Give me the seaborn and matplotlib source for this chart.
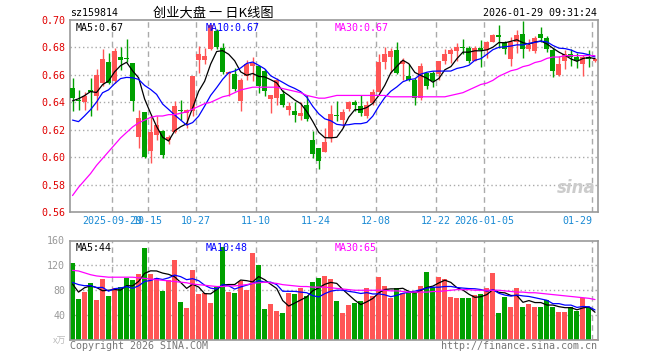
import numpy as np
import pandas as pd
import seaborn as sns
import matplotlib.pyplot as plt

# ------------------------------ data from the chart ------------------------------
holidays = pd.to_datetime(["2025-10-01", "2025-10-02", "2025-10-03", "2025-10-06",
                           "2025-10-07", "2025-10-08", "2026-01-01", "2026-01-02"])
trade_days = pd.bdate_range("2025-09-18", "2026-01-29").difference(holidays)

tick_dates = ["2025-09-29", "2025-10-15", "2025-10-27", "2025-11-10", "2025-11-24",
              "2025-12-08", "2025-12-22", "2026-01-05", "2026-01-29"]
tick_labels = ["2025-09-29", "10-15", "10-27", "11-10", "11-24",
               "12-08", "12-22", "2026-01-05", "01-29"]

opens = [.6505, .6412, .6400, .6482, .6444, .6542, .6693, .6554, .6730, .6722,
         .6689, .6149, .6326, .6044, .6162, .6190, .6125, .6186, .6342, .6321,
         .6340, .6706, .6706, .6792, .6922, .6794, .6608, .6608, .6407, .6591,
         .6664, .6664, .6628, .6427, .6432, .6463, .6346, .6339, .6299, .6383,
         .6125, .6064, .6040, .6142, .6306, .6272, .6353, .6402, .6370, .6297,
         .6395, .6476, .6696, .6731, .6779, .6677, .6591, .6566, .6432, .6615,
         .6615, .6603, .6701, .6755, .6775, .6799, .6799, .6701, .6799, .6779,
         .6841, .6890, .6836, .6713, .6836, .6897, .6787, .6775, .6897, .6868,
         .6779, .6598, .6701, .6750, .6733, .6682, .6731, .6701]
highs = [.6579, .6493, .6476, .6579, .6640, .6787, .6762, .6799, .6800, .6865,
         .6689, .6346, .6326, .6304, .6300, .6199, .6162, .6407, .6418, .6350,
         .6591, .6811, .6799, .6963, .6934, .6829, .6628, .6652, .6579, .6710,
         .6731, .6664, .6640, .6456, .6579, .6493, .6402, .6402, .6402, .6456,
         .6187, .6064, .6211, .6383, .6412, .6353, .6412, .6419, .6456, .6412,
         .6500, .6755, .6806, .6799, .6836, .6726, .6677, .6579, .6689, .6615,
         .6628, .6701, .6787, .6799, .6829, .6860, .6811, .6811, .6853, .6848,
         .6897, .6963, .6848, .6873, .6926, .6995, .6860, .6885, .6946, .6885,
         .6799, .6738, .6779, .6787, .6762, .6745, .6779, .6721]
lows = [.6340, .6346, .6346, .6300, .6346, .6517, .6530, .6542, .6633, .6693,
        .6340, .6068, .5994, .5954, .6125, .5993, .6093, .6174, .6272, .6215,
        .6300, .6615, .6677, .6780, .6787, .6603, .6444, .6481, .6339, .6566,
        .6554, .6468, .6444, .6321, .6378, .6363, .6309, .6255, .6272, .6260,
        .5991, .5917, .6035, .6113, .6260, .6223, .6334, .6334, .6297, .6285,
        .6383, .6476, .6640, .6615, .6603, .6566, .6554, .6383, .6419, .6500,
        .6510, .6559, .6677, .6689, .6701, .6750, .6689, .6701, .6657, .6726,
        .6836, .6799, .6750, .6664, .6762, .6726, .6775, .6762, .6836, .6770,
        .6583, .6591, .6640, .6664, .6652, .6591, .6657, .6696]
closes = [.6432, .6407, .6444, .6478, .6596, .6718, .6542, .6774, .6708, .6716,
          .6407, .6289, .6002, .6186, .6235, .6015, .6149, .6370, .6338, .6346,
          .6591, .6755, .6738, .6963, .6804, .6623, .6623, .6500, .6559, .6680,
          .6689, .6517, .6481, .6456, .6566, .6383, .6370, .6309, .6324, .6280,
          .6020, .5974, .6113, .6316, .6302, .6326, .6402, .6383, .6321, .6378,
          .6476, .6694, .6750, .6775, .6615, .6701, .6566, .6432, .6664, .6517,
          .6554, .6701, .6750, .6779, .6804, .6794, .6701, .6799, .6780, .6836,
          .6892, .6873, .6787, .6836, .6890, .6787, .6819, .6868, .6868, .6787,
          .6628, .6677, .6755, .6733, .6701, .6731, .6713, .6713]
volumes = [124, 66, 77, 91, 64, 98, 70, 83, 86, 100,
           96, 106, 148, 106, 99, 79, 96, 128, 61, 51,
           112, 74, 75, 59, 85, 150, 77, 75, 95, 80,
           140, 120, 50, 58, 46, 43, 76, 74, 83, 70,
           93, 99, 103, 98, 62, 44, 56, 60, 63, 84,
           71, 101, 87, 68, 84, 76, 75, 76, 87, 109,
           86, 101, 98, 69, 67, 67, 67, 73, 74, 84,
           108, 44, 69, 53, 84, 53, 58, 53, 53, 64,
           53, 45, 45, 53, 47, 68, 53, 2]

# closes / volumes of the days just before the window (needed for the first MA points)
prev_close = [0.652, 0.6025, 0.6025, 0.604, 0.604, 0.633, 0.633, 0.633, 0.663]
prev_vol = [100, 95, 90, 95, 95, 131, 42, 76, 77]

# 30-day averages
ma30_price = [.572, .578, .583, .588, .594, .599, .604, .609, .614, .618,
              .622, .625, .627, .629, .630, .630, .631, .631, .632, .633,
              .635, .637, .639, .640, .642, .644, .645, .647, .649, .650,
              .651, .651, .651, .651, .651, .650, .649, .648, .647, .645,
              .644, .643, .643, .644, .645, .645, .645, .645, .645, .645,
              .645, .645, .645, .644, .644, .644, .644, .644, .644, .644,
              .644, .644, .644, .645, .646, .647, .649, .651, .653, .654,
              .656, .659, .661, .663, .664, .666, .667, .669, .670, .672,
              .673, .673, .674, .674, .674, .674, .674, .674]
ma30_vol = [112, 111, 108, 105, 103, 102, 101, 101, 101, 101,
            101, 100, 99, 98, 97, 96, 95, 94, 93, 92,
            90, 89, 88, 87, 86, 86, 87, 87, 88, 89,
            91, 92, 93, 92, 91, 89, 88, 87, 86, 86,
            85, 85, 85, 84, 83, 82, 81, 80, 80, 80,
            80, 80, 80, 79, 79, 78, 77, 77, 77, 77,
            78, 78, 79, 80, 81, 81, 81, 80, 80, 80,
            80, 80, 79, 78, 77, 77, 76, 76, 75, 74,
            73, 72, 71, 70, 69, 68, 67, 65]

# ------------------------------------ build ------------------------------------
df = pd.DataFrame({"open": opens, "high": highs, "low": lows, "close": closes, "vol": volumes})
df["x"] = np.arange(len(df))
n = len(df)

c_all = pd.Series(prev_close + closes)
v_all = pd.Series(prev_vol + volumes)
df["ma5"] = c_all.rolling(5).mean().iloc[-n:].values
df["ma10"] = c_all.rolling(10).mean().iloc[-n:].values
df["ma30"] = ma30_price
df["vma5"] = v_all.rolling(5).mean().iloc[-n:].values
df["vma10"] = v_all.rolling(10).mean().iloc[-n:].values
df["vma30"] = ma30_vol

RED = "#ff5555"
GREEN = "#00a000"
GRID = "#aaaaaa"
MONO = "DejaVu Sans Mono"
FS = 7.2

sns.set_style("white")
plt.rcParams["font.family"] = [MONO]


def cut2(v):
    # the site truncates the shown averages
    return f"{np.floor(v * 100) / 100:.2f}"


up = df["close"] >= df["open"]
colors = np.where(up, RED, GREEN)
tick_pos = [trade_days.get_loc(pd.Timestamp(d)) - 0.45 for d in tick_dates]

fig = plt.figure(figsize=(6.6, 3.6), dpi=100)
ax = fig.add_axes([70 / 660, 1 - 212 / 360, 528 / 660, 192 / 360])
axv = fig.add_axes([70 / 660, 1 - 340 / 360, 528 / 660, 99.5 / 360])

for a in (ax, axv):
    for s in a.spines.values():
        s.set_color("#999999")
        s.set_linewidth(1.2)
    for p in tick_pos:
        a.axvline(p, color=GRID, lw=1, ls=(0, (4, 3)), zorder=0)
    a.set_xlim(-0.42, n - 0.5)
    a.tick_params(length=0)

# price panel
for v in np.arange(0.58, 0.69, 0.02):
    ax.axhline(v, color=GRID, lw=1, ls=(0, (1, 2)), zorder=0)
ax.vlines(df["x"], df["low"], df["high"], colors=colors, lw=1, zorder=2)
ax.bar(df["x"], (df["close"] - df["open"]).abs().clip(lower=0.0008),
       bottom=df[["open", "close"]].min(axis=1), width=0.83, color=colors, lw=0, zorder=3)
sns.lineplot(data=df, x="x", y="ma5", color="black", lw=0.9, ax=ax, zorder=4)
sns.lineplot(data=df, x="x", y="ma10", color="blue", lw=0.9, ax=ax, zorder=4)
sns.lineplot(data=df, x="x", y="ma30", color="#ff00ff", lw=0.9, ax=ax, zorder=4)
ax.set_ylim(0.56, 0.70)
yt = np.arange(0.56, 0.701, 0.02)
ax.set_yticks(yt)
ax.set_yticklabels([f"{v:.2f}" for v in yt], color="#e00000", fontsize=FS)
ax.set_xticks(tick_pos)
ax.set_xticklabels(tick_labels, color="#1a8ad4", fontsize=FS)
ax.get_xticklabels()[-1].set_ha("right")
ax.tick_params(axis="x", pad=3)
ax.tick_params(axis="y", pad=3)
ax.set_xlabel("")
ax.set_ylabel("")
ax.text(0.01, 0.985, "MA5:" + cut2(df["ma5"].iloc[-1]), transform=ax.transAxes,
        va="top", fontsize=FS, color="black")
ax.text(0.256, 0.985, "MA10:" + cut2(df["ma10"].iloc[-1]), transform=ax.transAxes,
        va="top", fontsize=FS, color="blue")
ax.text(0.502, 0.985, "MA30:" + cut2(df["ma30"].iloc[-1]), transform=ax.transAxes,
        va="top", fontsize=FS, color="#ff00ff")
ax.text(0.995, 0.08, "sina", transform=ax.transAxes, ha="right", va="bottom",
        fontsize=12, style="italic", weight="bold", color="#cccccc",
        family="DejaVu Sans", zorder=1)

# volume panel
for v in (40, 80, 120):
    axv.axhline(v, color=GRID, lw=1, ls=(0, (1, 2)), zorder=0)
axv.bar(df["x"], df["vol"], width=0.83, color=colors, lw=0, zorder=2)
sns.lineplot(data=df, x="x", y="vma5", color="black", lw=0.9, ax=axv, zorder=4)
sns.lineplot(data=df, x="x", y="vma10", color="blue", lw=0.9, ax=axv, zorder=4)
sns.lineplot(data=df, x="x", y="vma30", color="#ff00ff", lw=0.9, ax=axv, zorder=4)
axv.set_ylim(0, 160)
axv.set_yticks([40, 80, 120, 160])
axv.set_yticklabels(["40", "80", "120", "160"], color="#999999", fontsize=FS)
axv.set_xticks([])
axv.set_xlabel("")
axv.set_ylabel("")
axv.text(0.01, 0.97, f"MA5:{int(df['vma5'].iloc[-1])}", transform=axv.transAxes,
         va="top", fontsize=FS, color="black")
axv.text(0.256, 0.97, f"MA10:{int(df['vma10'].iloc[-1])}", transform=axv.transAxes,
         va="top", fontsize=FS, color="blue")
axv.text(0.502, 0.97, f"MA30:{int(df['vma30'].iloc[-1])}", transform=axv.transAxes,
         va="top", fontsize=FS, color="#ff00ff")

# header and footer texts
fig.text(70 / 660, 1 - 13 / 360, "sz159814", fontsize=FS, va="center", color="black")
fig.text(213 / 660, 1 - 13 / 360, "创业大盘 一 日K线图", fontsize=9.5, ha="center", va="center",
         family=["Noto Sans CJK SC", "DejaVu Sans"], color="black")
fig.text(597 / 660, 1 - 13 / 360, "2026-01-29 09:31:24", fontsize=FS, ha="right",
         va="center", color="black")
fig.text(70 / 660, 1 - 346 / 360, "Copyright 2026 SINA.COM", fontsize=FS, va="center",
         color="#777777")
fig.text(597 / 660, 1 - 346 / 360, "http://finance.sina.com.cn", fontsize=FS, ha="right",
         va="center", color="#777777")
fig.text(66 / 660, 1 - 341 / 360, "x万", fontsize=6.5, ha="right", va="center",
         family=["Noto Sans CJK SC", "DejaVu Sans"], color="#bbbbbb")

fig.savefig("out.png", dpi=100)
